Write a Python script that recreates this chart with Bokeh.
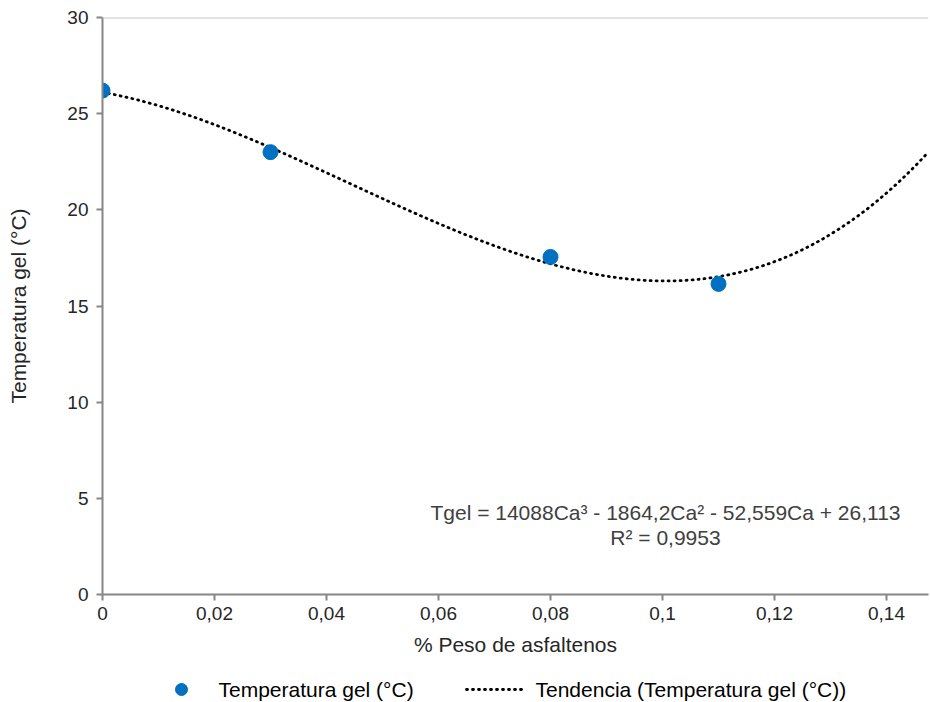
import numpy as np
from bokeh.plotting import figure
from bokeh.layouts import column
from bokeh.models import FixedTicker, Span, Label
from bokeh.embed import file_html
from bokeh.resources import INLINE

# Data
asf_pct = [0.0, 0.03, 0.08, 0.11]
t_gel = [26.2, 23.0, 17.55, 16.15]
# trendline coefficients (cubic) as displayed on chart: a3, a2, a1, a0
trend_coef = [14088.0, -1864.2, -52.559, 26.113]
x_ticks = [0, 0.02, 0.04, 0.06, 0.08, 0.1, 0.12, 0.14]
x_tick_labels = ["0", "0,02", "0,04", "0,06", "0,08", "0,1", "0,12", "0,14"]
y_ticks = [0, 5, 10, 15, 20, 25, 30]
eq_text = "Tgel = 14088Ca³ - 1864,2Ca² - 52,559Ca + 26,113"
r2_text = "R² = 0,9953"
legend_labels = ["Temperatura gel (°C)", "Tendencia (Temperatura gel (°C))"]

X_MAX = 0.1475
FONT = "Liberation Sans"
TXT = "#262626"
BLUE = "#0070C0"

p = figure(width=930, height=660, output_backend="svg", toolbar_location=None,
           x_range=(0, X_MAX), y_range=(0, 30),
           min_border_left=102, min_border_right=2, min_border_top=17, min_border_bottom=66)
p.outline_line_color = None
p.xgrid.grid_line_color = None
p.ygrid.grid_line_color = None

p.add_layout(Span(location=30, dimension="width", line_color="#c8c8c8", line_width=2))

for ax in (p.xaxis[0], p.yaxis[0]):
    ax.axis_line_color = "#868686"
    ax.axis_line_width = 2
    ax.major_tick_line_color = "#868686"
    ax.major_tick_line_width = 2
    ax.major_tick_out = 6
    ax.major_tick_in = 0
    ax.minor_tick_line_color = None
    ax.major_label_text_font = FONT
    ax.major_label_text_font_size = "19px"
    ax.major_label_text_color = TXT
    ax.axis_label_text_font = FONT
    ax.axis_label_text_font_size = "21px"
    ax.axis_label_text_font_style = "normal"
    ax.axis_label_text_color = TXT

p.xaxis.ticker = FixedTicker(ticks=x_ticks)
p.xaxis.major_label_overrides = {t: l for t, l in zip(x_ticks, x_tick_labels)}
p.xaxis.major_label_standoff = 6
p.xaxis.axis_label = "% Peso de asfaltenos"
p.xaxis.axis_label_standoff = 10

p.yaxis.ticker = FixedTicker(ticks=y_ticks)
p.yaxis.major_label_standoff = 8
p.yaxis.axis_label = "Temperatura gel (°C)"
p.yaxis.axis_label_standoff = 34

xs = np.linspace(0, X_MAX, 300)
ys = np.polyval(trend_coef, xs)
p.line(xs, ys, line_color="black", line_width=2.8, line_dash="1 5", line_cap="round")
p.scatter(asf_pct, t_gel, size=15, fill_color=BLUE, line_color=BLUE)

# frame-relative screen coordinates
p.add_layout(Label(x=563, y=82, x_units="screen", y_units="screen", text=eq_text,
                   text_font=FONT, text_font_size="21px", text_color="#404040",
                   text_align="center", text_baseline="middle"))
p.add_layout(Label(x=563, y=57, x_units="screen", y_units="screen", text=r2_text,
                   text_font=FONT, text_font_size="21px", text_color="#404040",
                   text_align="center", text_baseline="middle"))

# legend strip; its frame is aligned with the main frame (canvas px 102..928)
lg = figure(width=930, height=42, output_backend="svg", toolbar_location=None,
            x_range=(102, 928), y_range=(42, 0),
            min_border_left=102, min_border_right=2, min_border_top=0, min_border_bottom=0)
lg.axis.visible = False
lg.grid.grid_line_color = None
lg.outline_line_color = None
lg.scatter([181], [29], size=12, fill_color=BLUE, line_color=BLUE)
lg.line([466, 525], [29, 29], line_color="black", line_width=2.8, line_dash="1 5", line_cap="round")
lg.add_layout(Label(x=218, y=29, text=legend_labels[0], text_font=FONT, text_font_size="21px",
                    text_color="black", text_baseline="middle", text_align="left"))
lg.add_layout(Label(x=535, y=29, text=legend_labels[1], text_font=FONT, text_font_size="21px",
                    text_color="black", text_baseline="middle", text_align="left"))

layout = column(p, lg, spacing=0)
open("out.html", "w").write(file_html(layout, INLINE))
